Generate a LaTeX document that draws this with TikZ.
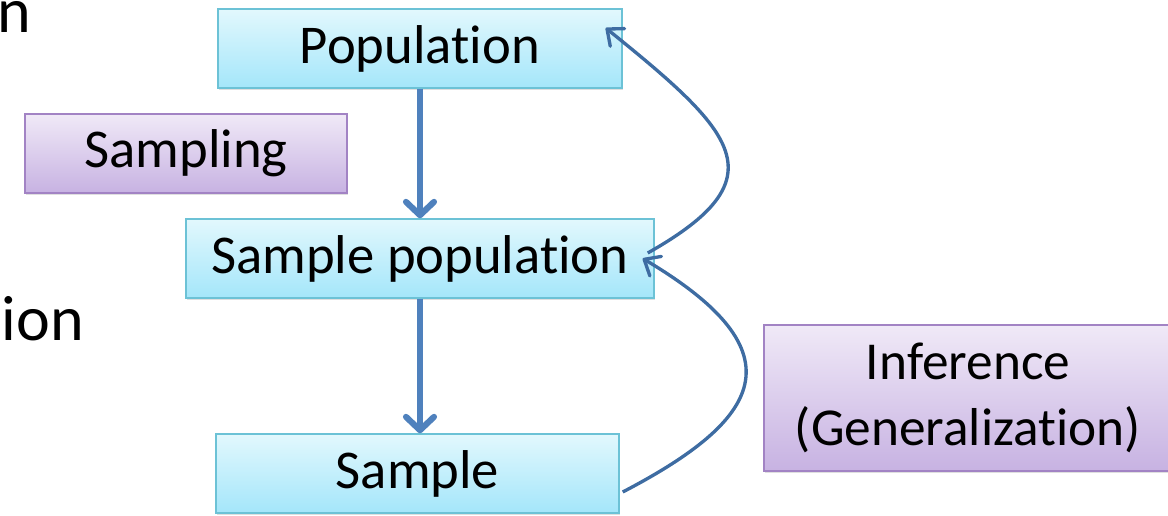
\documentclass[tikz,border=0pt]{standalone}
\usepackage{fontspec}
\setmainfont{Carlito}[RawFeature={-liga;-clig;-dlig}]
\usetikzlibrary{arrows.meta,shadows}
\definecolor{cyanTop}{HTML}{E2F8FD}
\definecolor{cyanBot}{HTML}{A4E6FA}
\definecolor{cyanLine}{HTML}{6CC2D6}
\definecolor{purTop}{HTML}{F0E9F7}
\definecolor{purBot}{HTML}{C7B2E2}
\definecolor{purLine}{HTML}{A283C4}
\definecolor{arrBlue}{HTML}{4F81BD}
\definecolor{curveBlue}{HTML}{3E6CA2}
\tikzset{
  boxbase/.style={rectangle, inner sep=0pt, line width=1.1pt,
    font=\fontsize{41}{49}\selectfont, align=center,
    drop shadow={shadow xshift=1pt, shadow yshift=-1.5pt, opacity=0.25}},
  cyanbox/.style={boxbase, draw=cyanLine, top color=cyanTop, bottom color=cyanBot},
  purbox/.style={boxbase, draw=purLine, top color=purTop, bottom color=purBot},
  bigarrow/.style={draw=arrBlue, line width=4.6pt,
    -{Straight Barb[length=10pt, width=21pt, round]}},
  curvearrow/.style={draw=curveBlue, line width=2.5pt,
    -{Straight Barb[length=10pt, width=17pt, round]}},
  cuttext/.style={inner sep=0pt, anchor=base east, font=\fontsize{48}{58}\selectfont}
}
\begin{document}
\begin{tikzpicture}[x=0.75pt, y=-0.75pt]
\path[use as bounding box] (0,0) rectangle (1168,516);
% cut-off texts at left
\node[cuttext] (cutA) at (31,33) {n};
\node[cuttext] (cutB) at (84,341) {ion};
% boxes
\node[cyanbox, minimum width=303pt, minimum height=59.25pt] (pop) at (420,48.5) {Population};
\node[purbox, minimum width=241.5pt, minimum height=59.25pt] (smp) at (186,153.5) {Sampling};
\node[cyanbox, minimum width=351pt, minimum height=59.25pt] (spop) at (420,258.5) {Sample population};
\node[cyanbox, minimum width=302.25pt, minimum height=59.25pt] (samp) at (417.5,473.5) {Sample};
\node[purbox, minimum width=306pt, minimum height=109.5pt, font=\fontsize{40}{49}\selectfont] (inf) at (968,398) {Inference\\(Generalization)};
% straight arrows
\draw[bigarrow] (pop.south) -- (spop.north);
\draw[bigarrow] (spop.south) -- (spop.south |- samp.north);
% curved arrows
\draw[curvearrow] ([shift={(-7,-5.5)}]spop.east) .. controls +(133,-75) and +(130,105) .. ([shift={(-17,-20.5)}]pop.east);
\draw[curvearrow] ([shift={(3,18.5)}]samp.east) .. controls +(138,-72) and +(160,95) .. ([shift={(-12,0)}]spop.east);
\end{tikzpicture}
\end{document}
